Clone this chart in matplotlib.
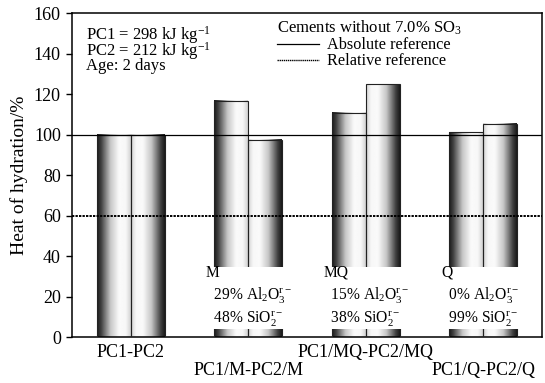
import numpy as np
import matplotlib
matplotlib.use('Agg')
import matplotlib.pyplot as plt
from matplotlib.lines import Line2D

plt.rcParams['font.family'] = ['Liberation Serif', 'DejaVu Serif']
plt.rcParams['mathtext.fontset'] = 'custom'
plt.rcParams['mathtext.rm'] = 'Liberation Serif'
plt.rcParams['mathtext.it'] = 'Liberation Serif:italic'
plt.rcParams['mathtext.bf'] = 'Liberation Serif:bold'

# data
groups = ['PC1-PC2', 'PC1/M-PC2/M', 'PC1/MQ-PC2/MQ', 'PC1/Q-PC2/Q']
pc1 = [100.0, 116.7, 110.8, 101.2]
pc2 = [100.0, 97.3, 124.9, 105.3]
absolute_ref = 100
relative_ref = 60

additions = ['M', 'MQ', 'Q']
al2o3 = [29, 15, 0]
sio2 = [48, 38, 99]

fig = plt.figure(figsize=(5.45, 3.83), dpi=100)
ax = fig.add_axes([0.132, 0.12, 0.8625, 0.846])

x = np.arange(len(groups))
w = 0.288
bars1 = ax.bar(x - w / 2, pc1, w, facecolor='none', edgecolor='#222222', lw=0.8, zorder=3)
bars2 = ax.bar(x + w / 2, pc2, w, facecolor='none', edgecolor='#222222', lw=0.8, zorder=3)

# cylinder-like shading
t = np.linspace(0, 1, 200)
shade = np.interp(t, [0, 0.12, 0.4, 0.65, 0.85, 1.0], [0.1, 0.25, 0.78, 0.98, 0.97, 0.82])
grad_left = shade[np.newaxis, :]
grad_right = shade[::-1][np.newaxis, :]
for bars, grad in ((bars1, grad_left), (bars2, grad_right)):
    for p in bars:
        x0 = p.get_x()
        ax.imshow(grad, extent=(x0, x0 + p.get_width(), 0, p.get_height()),
                  aspect='auto', cmap='gray', vmin=0, vmax=1, zorder=2,
                  interpolation='bilinear')

ax.axhline(absolute_ref, color='black', lw=0.9, zorder=4)
ax.axhline(relative_ref, color='black', lw=1.4, ls=(0, (1.2, 0.6)), zorder=4)

# composition notes (white box hides the bars behind)
for i, (lab, a, s) in enumerate(zip(additions, al2o3, sio2)):
    txt = (lab + '\n' + '  %d%% Al$_2$O$_3^{\\mathrm{r}-}$' % a
           + '\n' + '  %d%% SiO$_2^{\\mathrm{r}-}$' % s)
    ax.text(x[i + 1] - 0.36, 35.6, txt, ha='left', va='top', fontsize=11.2,
            linespacing=1.31, zorder=6,
            bbox=dict(facecolor='white', edgecolor='none', pad=0))

ax.text(0.03, 0.965, 'PC1 = 298 kJ kg$^{-1}$\nPC2 = 212 kJ kg$^{-1}$\nAge: 2 days',
        transform=ax.transAxes, fontsize=12.0, va='top', ha='left',
        linespacing=0.63)

handles = [Line2D([], [], color='black', lw=0.9),
           Line2D([], [], color='black', lw=1.0, ls=(0, (1, 0.5)))]
leg = ax.legend(handles, ['Absolute reference', 'Relative reference'],
                title='Cements without 7.0% SO$_3$', loc='upper left',
                bbox_to_anchor=(0.436, 0.982), frameon=False, fontsize=11.7,
                title_fontsize=12.0, handlelength=2.6, handletextpad=0.5,
                labelspacing=0.0, borderaxespad=0, borderpad=0, alignment='left')

ax.set_xlim(-0.5, 3.5)
ax.set_ylim(0, 160)
ax.set_yticks(np.arange(0, 161, 20))
ax.set_xticks(x)
ax.set_xticklabels(['PC1-PC2', '\nPC1/M-PC2/M', 'PC1/MQ-PC2/MQ', '\nPC1/Q-PC2/Q'],
                   linespacing=1.1)
ax.tick_params(axis='x', length=0, pad=5, labelsize=13)
ax.tick_params(axis='y', direction='out', length=4, width=1, labelsize=13, pad=4)
ax.set_ylabel('Heat of hydration/%', fontsize=14, labelpad=4)
for sp in ax.spines.values():
    sp.set_linewidth(1.1)

fig.savefig('out.png', dpi=100)
